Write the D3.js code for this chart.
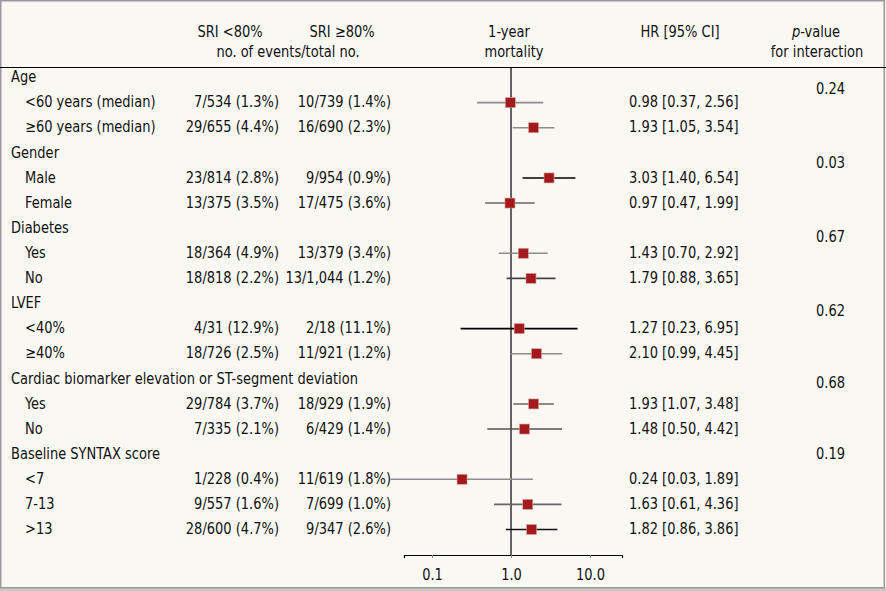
<!DOCTYPE html>
<html><head><meta charset="utf-8">
<script src="https://cdn.jsdelivr.net/npm/d3@7/dist/d3.min.js"></script>
<style>
html,body{margin:0;padding:0;background:#f9f8f3;}
svg text{font-family:"Liberation Sans Narrow","DejaVu Sans Condensed",sans-serif;font-stretch:condensed;fill:#111;}
</style></head><body>
<svg id="c" width="886" height="591"></svg>
<script>
const groups = ["Age","Gender","Diabetes","LVEF","Cardiac biomarker elevation or ST-segment deviation","Baseline SYNTAX score"];
const subgroups = [["<60 years (median)","≥60 years (median)"],["Male","Female"],["Yes","No"],["<40%","≥40%"],["Yes","No"],["<7","7-13",">13"]];
const sriLow = ["7/534 (1.3%)","29/655 (4.4%)","23/814 (2.8%)","13/375 (3.5%)","18/364 (4.9%)","18/818 (2.2%)","4/31 (12.9%)","18/726 (2.5%)","29/784 (3.7%)","7/335 (2.1%)","1/228 (0.4%)","9/557 (1.6%)","28/600 (4.7%)"];
const sriHigh = ["10/739 (1.4%)","16/690 (2.3%)","9/954 (0.9%)","17/475 (3.6%)","13/379 (3.4%)","13/1,044 (1.2%)","2/18 (11.1%)","11/921 (1.2%)","18/929 (1.9%)","6/429 (1.4%)","11/619 (1.8%)","7/699 (1.0%)","9/347 (2.6%)"];
const hr = [0.98,1.93,3.03,0.97,1.43,1.79,1.27,2.10,1.93,1.48,0.24,1.63,1.82];
const ciLow = [0.37,1.05,1.40,0.47,0.70,0.88,0.23,0.99,1.07,0.50,0.03,0.61,0.86];
const ciHigh = [2.56,3.54,6.54,1.99,2.92,3.65,6.95,4.45,3.48,4.42,1.89,4.36,3.86];
const pInteraction = ["0.24","0.03","0.67","0.62","0.68","0.19"];
const axisTicks = [0.1,1,10];

// styles (kept separate from data)
const ciColors = ["#8c8c8c","#8c8c8c","#000","#666","#8c8c8c","#444","#000","#8c8c8c","#666","#555","#8c8c8c","#666","#111"];
const pOffset = [12,10,9,8,4,0];
const SX = 0.905;

const svg = d3.select("#c");
const W = 886, H = 591;
svg.append("rect").attr("x",0).attr("y",0).attr("width",W).attr("height",H).attr("fill","#f9f8f3");
svg.append("rect").attr("x",0).attr("y",587).attr("width",W).attr("height",4).attr("fill","#c8c8c4");
svg.append("rect").attr("x",0.75).attr("y",0.75).attr("width",W-2.5).attr("height",587).attr("fill","none").attr("stroke","#999").attr("stroke-width",1.5);

// rows
const rows = [];
let k = 0;
groups.forEach((g,gi)=>{
  rows.push({type:"group",label:g,gi});
  subgroups[gi].forEach(s=>{rows.push({type:"sub",label:s,idx:k,gi}); k++;});
});
const y = d3.scalePoint().domain(d3.range(rows.length)).range([77,529]);
const x = d3.scaleLog().domain([0.0442,25.4]).range([404,622]);

const fs = 16;
function t(g,xx,yy,txt,anchor){
  return g.append("text").attr("transform",`translate(${xx},${yy}) scale(${SX},1)`)
    .attr("text-anchor",anchor||"start").attr("dominant-baseline","central").text(txt);
}
// header
const hdr = svg.append("g").attr("font-size",fs);
t(hdr,230,32,"SRI <80%","middle");
t(hdr,342,32,"SRI ≥80%","middle");
t(hdr,288,52,"no. of events/total no.","middle");
t(hdr,509,32,"1-year","middle");
t(hdr,514,52,"mortality","middle");
t(hdr,680,32,"HR [95% CI]","middle");
const pv = t(hdr,816,32,"","middle");
pv.append("tspan").attr("font-style","italic").text("p");
pv.append("tspan").text("-value");
t(hdr,817,52,"for interaction","middle");

svg.append("line").attr("x1",0).attr("x2",W).attr("y1",67.5).attr("y2",67.5).attr("stroke","#000").attr("stroke-width",1.2);

// reference line
svg.append("line").attr("x1",x(1)).attr("x2",x(1)).attr("y1",67).attr("y2",555).attr("stroke","#000").attr("stroke-width",1.2);

const body = svg.append("g").attr("font-size",fs);
rows.forEach((r,i)=>{
  const yy = y(i);
  if(r.type==="group"){
    t(body,11,yy,r.label);
  } else {
    t(body,25,yy,r.label);
    t(body,279,yy,sriLow[r.idx],"end");
    t(body,391,yy,sriHigh[r.idx],"end");
    t(body,629,yy,`${hr[r.idx].toFixed(2)} [${ciLow[r.idx].toFixed(2)}, ${ciHigh[r.idx].toFixed(2)}]`);
  }
});
// p-values
groups.forEach((g,gi)=>{
  const ri = rows.findIndex(r=>r.type==="group"&&r.gi===gi);
  t(body,845,y(ri)+pOffset[gi],pInteraction[gi],"end");
});

// CI lines and markers
const subs = rows.map((r,i)=>({...r,i})).filter(r=>r.type==="sub");
svg.append("g").selectAll("line").data(subs).join("line")
  .attr("x1",d=>x(ciLow[d.idx])).attr("x2",d=>x(ciHigh[d.idx]))
  .attr("y1",d=>y(d.i)+0.5).attr("y2",d=>y(d.i)+0.5)
  .attr("stroke",d=>ciColors[d.idx]).attr("stroke-width",1.6);
svg.append("g").selectAll("rect").data(subs).join("rect")
  .attr("x",d=>x(hr[d.idx])-5).attr("y",d=>y(d.i)-4.5)
  .attr("width",10).attr("height",10)
  .attr("fill","#a3191c").attr("stroke","#d9a0a0").attr("stroke-width",0.6);

// axis
const ax = svg.append("g").attr("transform","translate(0,555)")
  .call(d3.axisBottom(x).tickValues(axisTicks).tickSizeOuter(0).tickSize(3).tickFormat(d3.format(".1f")));
ax.select(".domain").attr("stroke","#000").attr("stroke-width",1.2);
ax.selectAll(".tick line").attr("stroke","#888");
ax.selectAll(".tick text").attr("font-size",fs).attr("font-family",null).attr("dy",null).attr("y",null)
  .attr("transform",`translate(0,20) scale(${SX},1)`).attr("dominant-baseline","central").attr("fill","#111");
</script>
</body></html>
